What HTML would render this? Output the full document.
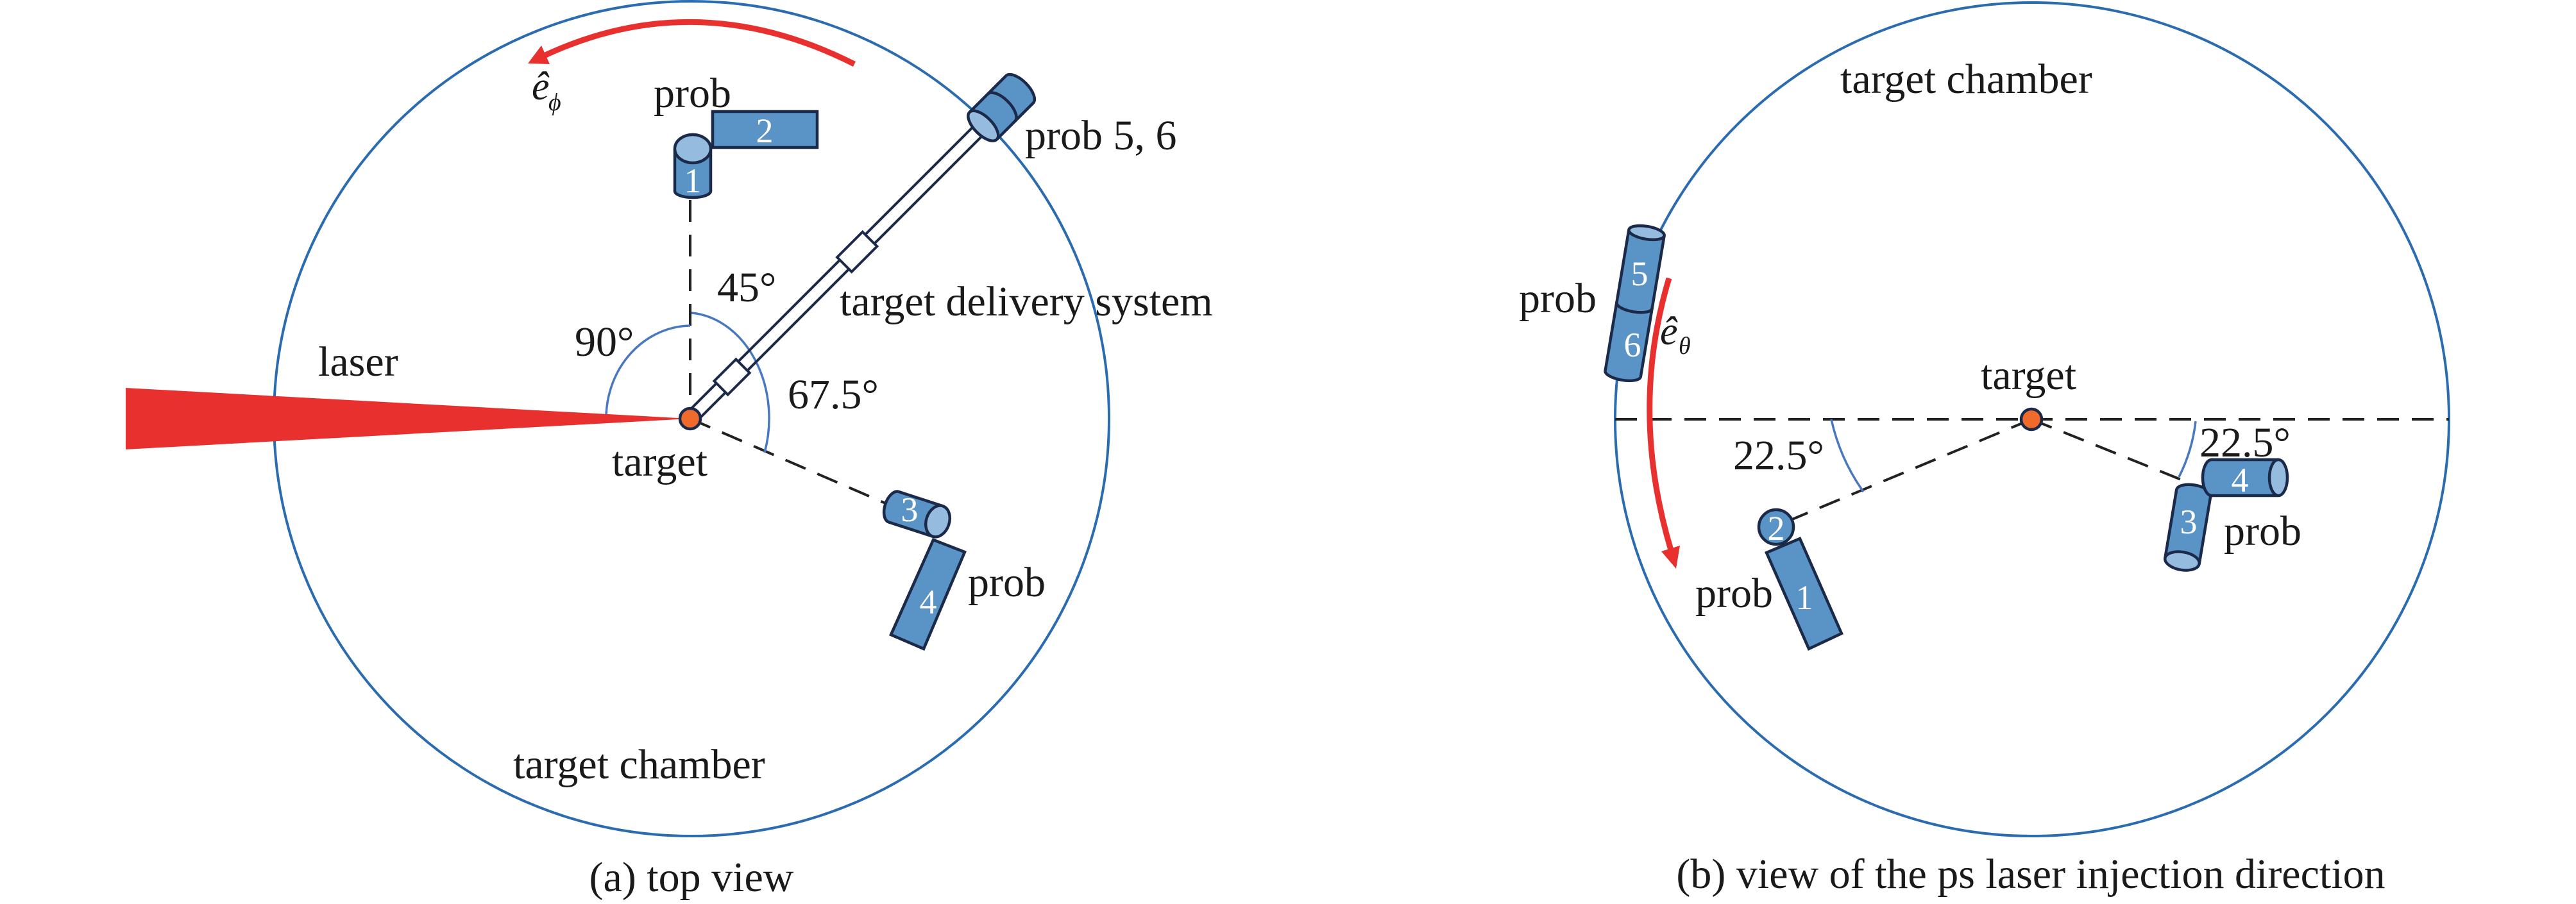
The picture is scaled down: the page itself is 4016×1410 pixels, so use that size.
<!DOCTYPE html>
<html><head><meta charset="utf-8"><style>
html,body{margin:0;padding:0;background:#fff}
svg{display:block}
text{font-family:"Liberation Serif",serif;fill:#1a1a1a}
.n{fill:#fff;font-size:54px;text-anchor:middle}
.t{font-size:66px}
</style></head><body>
<svg width="4016" height="1410" viewBox="0 0 4016 1410" xmlns="http://www.w3.org/2000/svg">
<defs>
<style>
.B{fill:#5a93c6}.L{fill:#95bbde}.D{stroke:#1c2a4a;stroke-width:4.5}
.dash{stroke:#222;stroke-width:4;stroke-dasharray:34 20;fill:none}
.arc{stroke:#4a78c0;stroke-width:3.5;fill:none}
</style>
</defs>

<!-- LEFT PANEL -->
<circle cx="1078" cy="653" r="651" fill="none" stroke="#2b6cb0" stroke-width="4"/>
<path d="M1332,100 Q1085,-25 846,88" fill="none" stroke="#e8312f" stroke-width="9"/>
<polygon points="823,99 844,71 857,100" fill="#e8312f"/>
<text x="829" y="155" font-size="62" font-style="italic">ê</text>
<text x="855" y="172" font-size="38" font-style="italic">ϕ</text>

<text x="1019" y="167" class="t">prob</text>
<rect x="1111" y="174" width="163" height="56" class="B D"/>
<text x="1192" y="222" class="n">2</text>
<g transform="translate(1080,232) rotate(90)">
<ellipse cx="66" cy="0" rx="10" ry="28" class="B D"/>
<rect x="0" y="-28" width="66" height="56" class="B"/>
<line x1="0" y1="-28" x2="66" y2="-28" class="D"/><line x1="0" y1="28" x2="66" y2="28" class="D"/>
<ellipse cx="0" cy="0" rx="22" ry="28" class="L D"/>
</g>
<text x="1080" y="300" class="n">1</text>

<line x1="1076" y1="312" x2="1076" y2="640" class="dash"/>
<line x1="1076" y1="653" x2="1392" y2="790" class="dash"/>

<path d="M1076,508 A133,145 0 0 0 945,650" class="arc"/>
<path d="M1078,488 A131,165 0 0 1 1192,706" class="arc"/>

<polygon points="196,605 196,701 1076,653" fill="#e8312f"/>

<g transform="translate(1076,653) rotate(-45)">
<line x1="10" y1="-10" x2="650" y2="-10" stroke="#1c2a4a" stroke-width="4"/>
<line x1="10" y1="10" x2="650" y2="10" stroke="#1c2a4a" stroke-width="4"/>
<rect x="68" y="-15" width="48" height="30" fill="#fff" stroke="#1c2a4a" stroke-width="4"/>
<rect x="340" y="-16" width="56" height="32" fill="#fff" stroke="#1c2a4a" stroke-width="4"/>
<ellipse cx="726" cy="0" rx="14" ry="30" class="B D"/>
<rect x="646" y="-30" width="80" height="60" class="B"/>
<line x1="646" y1="-30" x2="726" y2="-30" class="D"/><line x1="646" y1="30" x2="726" y2="30" class="D"/>
<path d="M686,-30 A14,30 0 0 1 686,30" fill="none" class="D"/>
<ellipse cx="646" cy="0" rx="14" ry="30" class="L D"/>
</g>
<circle cx="1076" cy="653" r="16" fill="#f06a2c" stroke="#1c2a4a" stroke-width="4.5"/>

<g transform="translate(1462,813) rotate(198)">
<ellipse cx="72" cy="0" rx="14" ry="25" class="B D"/>
<rect x="0" y="-25" width="72" height="50" class="B"/>
<line x1="0" y1="-25" x2="72" y2="-25" class="D"/><line x1="0" y1="25" x2="72" y2="25" class="D"/>
<ellipse cx="0" cy="0" rx="18" ry="25" class="L D"/>
</g>
<text x="1418" y="813" class="n">3</text>
<polygon points="1455,842 1504,861 1440,1012 1389,990" class="B D"/>
<text x="1447" y="957" class="n">4</text>

<text x="1598" y="233" class="t">prob 5, 6</text>
<text x="1118" y="470" class="t">45°</text>
<text x="1309" y="492" class="t">target delivery system</text>
<text x="896" y="555" class="t">90°</text>
<text x="496" y="586" class="t">laser</text>
<text x="1228" y="637" class="t">67.5°</text>
<text x="954" y="742" class="t">target</text>
<text x="1509" y="930" class="t">prob</text>
<text x="800" y="1214" class="t">target chamber</text>
<text x="1078" y="1390" class="t" text-anchor="middle">(a) top view</text>

<!-- RIGHT PANEL -->
<circle cx="3168" cy="654" r="650" fill="none" stroke="#2b6cb0" stroke-width="4"/>
<text x="2869" y="145" class="t">target chamber</text>
<line x1="2518" y1="654" x2="3818" y2="654" class="dash"/>
<line x1="3167" y1="654" x2="2794" y2="810" class="dash"/>
<line x1="3167" y1="654" x2="3410" y2="752" class="dash"/>
<path d="M2855,654 A312,312 0 0 0 2905,767" class="arc"/>
<path d="M3423,657 A256,256 0 0 1 3397,744" class="arc"/>
<text x="3088" y="607" class="t">target</text>
<text x="2702" y="732" class="t">22.5°</text>
<text x="3429" y="712" class="t">22.5°</text>

<g transform="translate(2567,363) rotate(99.5)">
<ellipse cx="223" cy="0" rx="10" ry="28" class="B D"/>
<rect x="0" y="-28" width="223" height="56" class="B"/>
<line x1="0" y1="-28" x2="223" y2="-28" class="D"/><line x1="0" y1="28" x2="223" y2="28" class="D"/>
<path d="M115,-28 A10,28 0 0 1 115,28" fill="none" class="D"/>
<ellipse cx="0" cy="0" rx="10" ry="28" class="L D"/>
</g>
<text x="2556" y="445" class="n">5</text>
<text x="2545" y="556" class="n">6</text>
<text x="2368" y="487" class="t">prob</text>
<path d="M2602,434 Q2540,640 2605,858" fill="none" stroke="#e8312f" stroke-width="9"/>
<polygon points="2613,887 2619,851 2590,860" fill="#e8312f"/>
<text x="2588" y="537" font-size="62" font-style="italic">ê</text>
<text x="2617" y="552" font-size="38" font-style="italic">θ</text>

<circle cx="3167" cy="654" r="16" fill="#f06a2c" stroke="#1c2a4a" stroke-width="4.5"/>

<polygon points="2754,862 2806,840 2871,988 2820,1012" class="B D"/>
<text x="2813" y="950" class="n">1</text>
<circle cx="2769" cy="822" r="27" class="B D"/>
<text x="2769" y="842" class="n">2</text>
<text x="2643" y="947" class="t">prob</text>

<g transform="translate(3402,875) rotate(-80.5)">
<ellipse cx="108" cy="0" rx="12" ry="27" class="B D"/>
<rect x="0" y="-27" width="108" height="54" class="B"/>
<line x1="0" y1="-27" x2="108" y2="-27" class="D"/><line x1="0" y1="27" x2="108" y2="27" class="D"/>
<ellipse cx="0" cy="0" rx="14" ry="27" class="L D"/>
</g>
<text x="3412" y="832" class="n">3</text>
<g transform="translate(3552,745) rotate(180)">
<ellipse cx="104" cy="0" rx="14" ry="28" class="B D"/>
<rect x="0" y="-28" width="104" height="56" class="B"/>
<line x1="0" y1="-28" x2="104" y2="-28" class="D"/><line x1="0" y1="28" x2="104" y2="28" class="D"/>
<ellipse cx="0" cy="0" rx="14" ry="28" class="L D"/>
</g>
<text x="3492" y="767" class="n">4</text>
<text x="3467" y="850" class="t">prob</text>

<text x="3166" y="1385" class="t" text-anchor="middle">(b) view of the ps laser injection direction</text>
</svg>
</body></html>
